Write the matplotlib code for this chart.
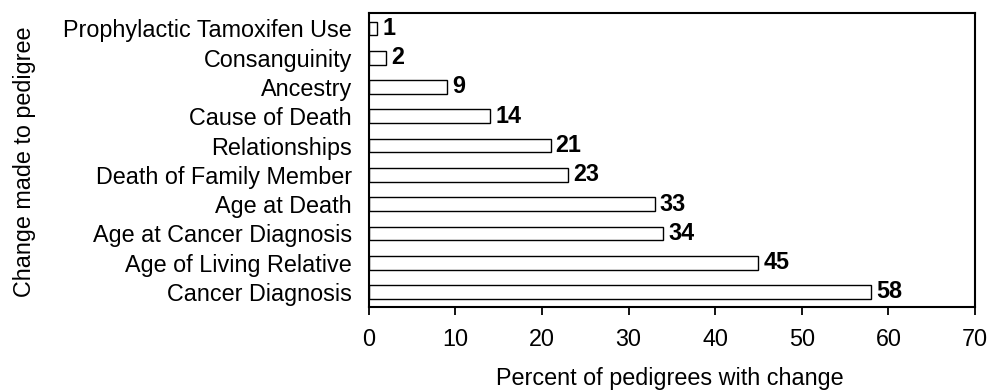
import matplotlib
matplotlib.use("Agg")
import matplotlib.pyplot as plt

plt.rcParams['font.family'] = ['Liberation Sans', 'DejaVu Sans']

categories = ["Cancer Diagnosis", "Age of Living Relative", "Age at Cancer Diagnosis",
              "Age at Death", "Death of Family Member", "Relationships",
              "Cause of Death", "Ancestry", "Consanguinity", "Prophylactic Tamoxifen Use"]
values = [58, 45, 34, 33, 23, 21, 14, 9, 2, 1]
xticks = [0, 10, 20, 30, 40, 50, 60, 70]

FS = 16.8
fig = plt.figure(figsize=(9.99, 3.9), dpi=100)
ax = fig.add_axes([0.369, 0.213, 0.607, 0.754])
y = list(range(len(categories)))
ax.barh(y, values, height=0.47, color='white', edgecolor='black', linewidth=1.0)
for yi, v in zip(y, values):
    ax.text(v + 0.6, yi, str(v), va='center', ha='left', fontsize=FS, fontweight='bold')
ax.set_yticks(y)
ax.set_yticklabels(categories, fontsize=FS)
ax.tick_params(axis='y', length=0, pad=12)
ax.set_xticks(xticks)
ax.set_xticklabels([str(t) for t in xticks], fontsize=FS)
ax.tick_params(axis='x', length=6, width=1.3, pad=9, direction='out')
ax.set_xlim(0, 70)
ax.set_ylim(-0.51, 9.53)
for s in ax.spines.values():
    s.set_linewidth(1.5)
fig.text(670 / 999, 1 - 378 / 390, "Percent of pedigrees with change", va='center', ha='center', fontsize=FS)
fig.text(0.025, 0.585, "Change made to pedigree", rotation=90, va='center', ha='center', fontsize=FS)
fig.savefig("out.png", dpi=100)
